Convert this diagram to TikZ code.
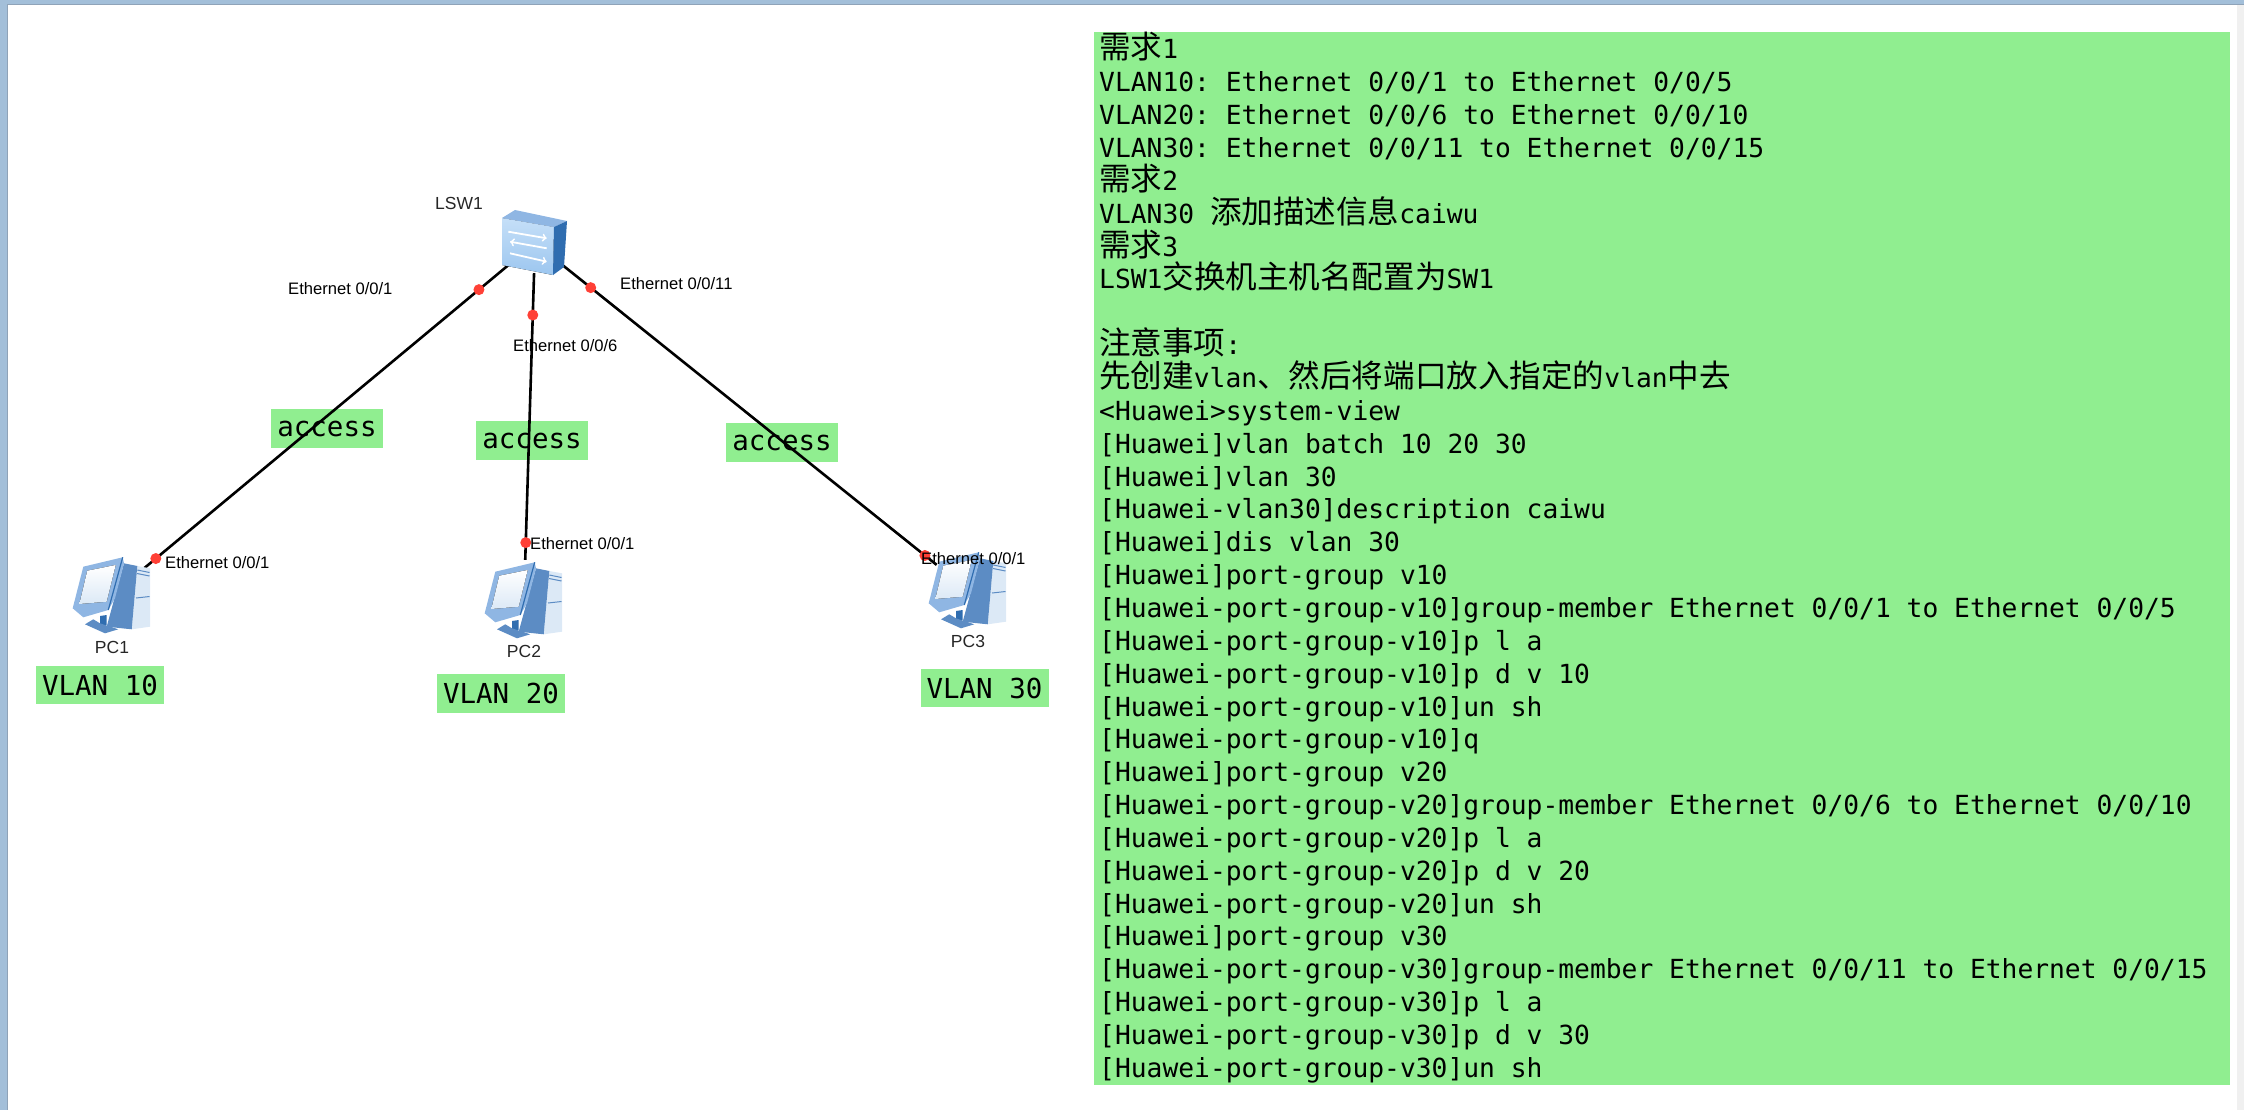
\documentclass[tikz,border=0pt]{standalone}
\usepackage{fontspec}
\setmainfont{Liberation Sans}
\setmonofont{DejaVu Sans Mono}
\newfontfamily\cjkfont[Scale=1.2]{Noto Sans CJK SC}
\newcommand{\cn}[1]{{\cjkfont #1}}
\definecolor{notegreen}{HTML}{90EE90}
\definecolor{framblue}{HTML}{A3BFD9}
\definecolor{framedge}{HTML}{8FA3B8}
\definecolor{framgrey}{HTML}{F0F0F0}
\definecolor{iconlight}{HTML}{DCE9F6}
\definecolor{iconmid}{HTML}{8FB6E3}
\definecolor{icondark}{HTML}{5C8CC4}
\definecolor{icondeep}{HTML}{2F6DB0}
\definecolor{switchtop}{HTML}{C5DFF8}
\definecolor{switchlow}{HTML}{9CC6EF}
\definecolor{portred}{HTML}{FF4036}
\tikzset{
  devicedecorate/.style={shape=circle,inner sep=0pt,minimum size=#1},
  linkdecorate/.style={draw=black,line width=2.6pt},
  portdot/.style={shape=circle,fill=portred,inner sep=0pt,minimum size=11pt},
  portlabel/.style={font=\fontsize{16.6}{18}\selectfont,inner sep=0pt,text=black},
  namelabel/.style={font=\fontsize{17.5}{20}\selectfont,inner sep=0pt,text=black!85},
  tagbox/.style={fill=notegreen,inner sep=0pt,minimum width=#1,font=\ttfamily\fontsize{27.5}{30}\selectfont},
  cmdline/.style={anchor=base west,inner sep=0pt,font=\ttfamily\fontsize{26.3}{32}\selectfont},
  pics/switchicon/.style={code={
    \fill[top color=switchtop,bottom color=switchlow] (-33,-25) -- (19,-16) -- (18,32) -- (-33,22) -- cycle;
    \fill[iconmid] (-33,-25) -- (-20,-33) -- (32,-22) -- (19,-16) -- cycle;
    \fill[icondeep] (19,-16) -- (32,-22) -- (29,24) -- (18,32) -- cycle;
    \draw[white,line width=1.8pt,->] (-26.7,-11.3) -- (11.7,-4.7);
    \draw[white,line width=1.8pt,->] (11.7,5.3) -- (-25,-1.3);
    \draw[white,line width=1.8pt,->] (-25,10.3) -- (11.7,18.7);
  }},
  pics/pcicon/.style={code={
    %% tower
    \fill[iconlight] (25.3,-29) -- (38,-26.7) -- (38,31.7) -- (19.7,34.3) -- cycle;
    \fill[icondark] (12,-31.7) -- (25.3,-29) -- (19.7,34.3) -- (-5.3,31.7) -- cycle;
    \draw[icondark,line width=1pt] (25.3,-25) -- (37.5,-22.5) (25,-21.5) -- (37.5,-19) (24,3) -- (37.5,1.5);
    %% stand
    \fill[icondeep] (-12,21) -- (-5.3,20) -- (-5.3,30) -- (-12,31.7) -- cycle;
    \fill[icondark] (-27,29.3) -- (-18.7,24.3) -- (-12,28.3) -- (6.3,34.3) -- (-7,38.3) -- cycle;
    %% screen
    \fill[iconmid] (-28.7,-28.3) -- (10.7,-37.7) -- (12,-31.7) -- (3,3.3) -- (-3.7,15) -- (-28.7,22.3) -- (-39.3,13.3) -- cycle;
    \fill[top color=white,bottom color=iconlight] (-24.7,-24.3) -- (3.7,-30) -- (-5.3,6.7) -- (-32.7,9) -- cycle;
    \draw[icondeep,line width=1.2pt] (10.7,-37.7) -- (-3.7,15);
  }}
}
\begin{document}
\begin{tikzpicture}[x=1pt,y=-1pt]
\useasboundingbox (0,0) rectangle (2244,1110);
%% window frame
\fill[framgrey] (2237,0) rectangle (2244,1110);
\fill[framblue] (0,0) rectangle (2244,4);
\fill[framblue] (0,0) rectangle (7,1110);
\draw[framedge,line width=1pt] (7,1110) -- (7,5) -- (2244,5);
%% text panel
\node (notepanel) at (1662,558.5) [fill=notegreen,inner sep=0pt,minimum width=1136pt,minimum height=1053pt] {};
\foreach \i/\linetext in {
  1/{\cn{需求}1},
  2/{VLAN10: Ethernet 0/0/1 to Ethernet 0/0/5},
  3/{VLAN20: Ethernet 0/0/6 to Ethernet 0/0/10},
  4/{VLAN30: Ethernet 0/0/11 to Ethernet 0/0/15},
  5/{\cn{需求}2},
  6/{VLAN30 \cn{添加描述信息}caiwu},
  7/{\cn{需求}3},
  8/{LSW1\cn{交换机主机名配置为}SW1},
  10/{\cn{注意事项}:},
  11/{\cn{先创建}vlan\cn{、然后将端口放入指定的}vlan\cn{中去}},
  12/{<Huawei>system-view},
  13/{[Huawei]vlan batch 10 20 30},
  14/{[Huawei]vlan 30},
  15/{[Huawei-vlan30]description caiwu},
  16/{[Huawei]dis vlan 30},
  17/{[Huawei]port-group v10},
  18/{[Huawei-port-group-v10]group-member Ethernet 0/0/1 to Ethernet 0/0/5},
  19/{[Huawei-port-group-v10]p l a},
  20/{[Huawei-port-group-v10]p d v 10},
  21/{[Huawei-port-group-v10]un sh},
  22/{[Huawei-port-group-v10]q},
  23/{[Huawei]port-group v20},
  24/{[Huawei-port-group-v20]group-member Ethernet 0/0/6 to Ethernet 0/0/10},
  25/{[Huawei-port-group-v20]p l a},
  26/{[Huawei-port-group-v20]p d v 20},
  27/{[Huawei-port-group-v20]un sh},
  28/{[Huawei]port-group v30},
  29/{[Huawei-port-group-v30]group-member Ethernet 0/0/11 to Ethernet 0/0/15},
  30/{[Huawei-port-group-v30]p l a},
  31/{[Huawei-port-group-v30]p d v 30},
  32/{[Huawei-port-group-v30]un sh}} {
  \node (line\i) at (1099,{59+(\i-1)*32.85}) [cmdline] {\linetext};
}
%% green tags
\foreach \nodename/\x/\y/\wide/\tagtext in {
  accessa/327/428.5/112pt/access, accessb/532/440.5/112pt/access, accessc/782/442.5/112pt/access,
  vlana/100/685/128pt/VLAN 10, vlanb/501/693.5/128pt/VLAN 20, vlanc/984.5/688/128pt/VLAN 30} {
  \node (\nodename) at (\x,\y) [tagbox=\wide,minimum height=38.5pt] {\tagtext};
}
%% nodes or vertices
\foreach \nodename/\x/\y/\size in {
  LSW1/535/243/60pt, PC1/112/595/80pt, PC2/524/600/80pt, PC3/968/590/80pt} {
  \node (\nodename) at (\x,\y) [devicedecorate=\size] {};
}
%% edges or lines
\path
\foreach \endnode/\near/\far in {PC1/.089/.965, PC2/.146/.94, PC3/.085/.969} {
  (LSW1) edge[linkdecorate] node[portdot,pos=\near] (\endnode swport) {}
    node[portdot,pos=\far] (\endnode pcport) {} (\endnode)
};
%% icons on top of the line ends
\pic at (LSW1) {switchicon};
\foreach \nodename in {PC1,PC2,PC3} {
  \pic at (\nodename) {pcicon};
}
%% names and port labels
\foreach \nodename/\x/\y/\labeltext in {
  nameLSW/459/203/LSW1, namePCa/112/647/PC1, namePCb/524/651/PC2, namePCc/968/641/PC3} {
  \node (\nodename) at (\x,\y) [namelabel] {\labeltext};
}
\foreach \nodename/\x/\y/\labeltext in {
  swporta/288/289/{Ethernet 0/0/1}, swportb/513/346/{Ethernet 0/0/6}, swportc/620/284/{Ethernet 0/0/11},
  pcporta/165/563/{Ethernet 0/0/1}, pcportb/530/544/{Ethernet 0/0/1}, pcportc/921/559/{Ethernet 0/0/1}} {
  \node (\nodename) at (\x,\y) [portlabel,anchor=west] {\labeltext};
}
\end{tikzpicture}
\end{document}
